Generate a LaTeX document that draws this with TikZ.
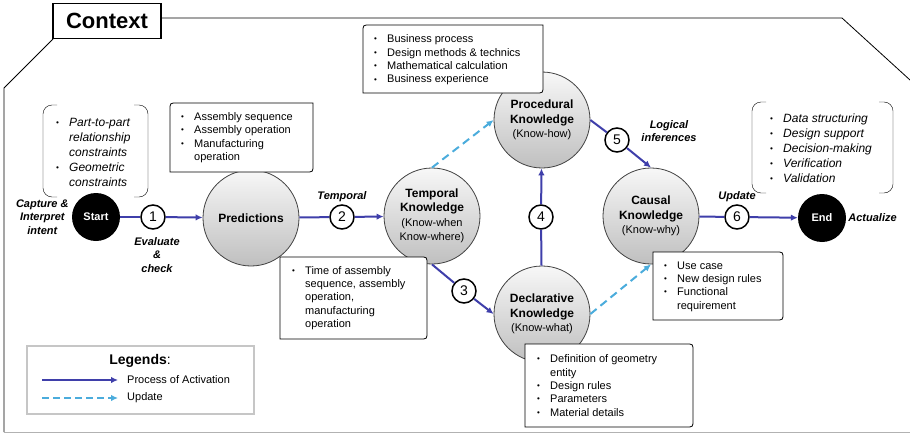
\documentclass[tikz,border=0pt]{standalone}
\usepackage{fontspec}
\setmainfont{Liberation Sans}
\usetikzlibrary{arrows.meta,positioning}

\definecolor{procblue}{RGB}{63,63,170}
\definecolor{updblue}{RGB}{75,172,220}

\newcommand{\bul}{\makebox[13pt][l]{\raisebox{0.9pt}{\fontsize{8}{8}\selectfont\textbullet}}}
\newcommand{\ind}{\hspace*{13pt}}
% box with top left and bottom right corners rounded
\newcommand{\diagbox}[4]{\filldraw[boxline] (#3,#2) -- (#1+7,#2) .. controls (#1,#2) .. (#1,#2+7) -- (#1,#4) -- (#3-7,#4) .. controls (#3,#4) .. (#3,#4-7) -- cycle;}
% box with both right corners rounded
\newcommand{\sidebox}[4]{\filldraw[boxline] (#1,#2) -- (#3-7,#2) .. controls (#3,#2) .. (#3,#2+7) -- (#3,#4-7) .. controls (#3,#4) .. (#3-7,#4) -- (#1,#4) -- cycle;}
% round brackets
\newcommand{\brackets}[4]{\draw[rounded corners=9pt] (#1+14,#2) -- (#1,#2) -- (#1,#4) -- (#1+14,#4);
  \draw[rounded corners=9pt] (#3-14,#2) -- (#3,#2) -- (#3,#4) -- (#3-14,#4);}

\tikzset{
  know/.style={circle, draw=black!75, line width=0.8pt, top color=gray!6, bottom color=gray!50, minimum size=96pt, inner sep=0pt, align=center, font=\fontsize{12}{14.5}\selectfont\bfseries},
  numc/.style={circle, draw, line width=1.5pt, fill=white, minimum size=24pt, inner sep=0pt, font=\fontsize{14}{14}\selectfont},
  term/.style={circle, fill=black, minimum size=48pt, inner sep=0pt, text=white, font=\fontsize{11}{13}\selectfont\bfseries},
  proc/.style={procblue, line width=2pt},
  procarrow/.style={proc, -{Latex[length=7pt,width=6.5pt]}},
  upd/.style={updblue, line width=2pt, dash pattern=on 8pt off 5pt, -{Latex[length=7pt,width=6.5pt]}},
  lbl/.style={font=\fontsize{11}{13.5}\selectfont\bfseries\itshape, align=center, inner sep=1pt},
  boxline/.style={draw=black, fill=white, line width=0.8pt},
  boxtext/.style={font=\fontsize{11}{13.4}\selectfont, align=left, inner sep=0pt, anchor=west},
  bracktext/.style={font=\fontsize{12}{15}\selectfont\itshape, align=left, inner sep=0pt, anchor=west}
}

\begin{document}
\begin{tikzpicture}[x=1pt,y=-1pt]
	\useasboundingbox (0,0) rectangle (910,436);
	
	% context frame
	\draw[line width=0.8pt] (910,80) -- (842,18) -- (161,18);
	\draw[line width=0.8pt] (53,39) -- (4,88) -- (4,432);
	\draw[gray!60, line width=0.8pt] (4,432) -- (910,432);
	\node[draw, fill=white, line width=1.6pt, minimum width=108pt, minimum height=35pt, font=\fontsize{22}{22}\selectfont\bfseries] (context) at (107,21) {Context};
	
	% knowledge
	\node[know] (pred) at (251,218) {Predictions};
	\node[know] (tk) at (432,216) {Temporal\\Knowledge\\{\fontsize{11}{13.5}\selectfont\mdseries (Know-when}\\{\fontsize{11}{13.5}\selectfont\mdseries Know-where)}};
	\node[know] (pk) at (542,120) {Procedural\\Knowledge\\{\fontsize{11}{14}\selectfont\mdseries (Know-how)}};
	\node[know] (dk) at (542,314) {Declarative\\Knowledge\\{\fontsize{11}{14}\selectfont\mdseries (Know-what)}};
	\node[know] (ck) at (651,216) {Causal\\Knowledge\\{\fontsize{11}{14}\selectfont\mdseries (Know-why)}};
	
	\node[term] (start) at (96,217) {Start};
	\node[term] (finish) at (822,218) {End};
	
	\node[numc] (c1) at (153,217) {1};
	\node[numc] (c2) at (342,217) {2};
	\node[numc] (c3) at (464,291) {3};
	\node[numc] (c4) at (541,217) {4};
	\node[numc] (c5) at (617,140) {5};
	\node[numc] (c6) at (737,217) {6};
	
	% text boxes
	\brackets{43}{105}{148}{197}
	\node[bracktext] (inputs) at (56,152) {\bul Part-to-part\\\ind relationship\\\ind constraints\\\bul Geometric\\\ind constraints};
	\brackets{752}{102}{893}{193}
	\node[bracktext] (outputs) at (770,148) {\bul Data structuring\\\bul Design support\\\bul Decision-making\\\bul Verification\\\bul Validation};
	
	\diagbox{170}{103}{313}{172}
	\node[boxtext] (asmbox) at (181,137.5) {\bul Assembly sequence\\\bul Assembly operation\\\bul Manufacturing\\\ind operation};
	\diagbox{363}{25}{543}{93}
	\node[boxtext] (bizbox) at (374,60) {\bul Business process\\\bul Design methods \& technics\\\bul Mathematical calculation\\\bul Business experience};
	\sidebox{280}{257}{427}{339}
	\node[boxtext] (timebox) at (292,298) {\bul Time of assembly\\\ind sequence, assembly\\\ind operation,\\\ind manufacturing\\\ind operation};
	\sidebox{653}{252}{783}{320}
	\node[boxtext] (casebox) at (664,286.5) {\bul Use case\\\bul New design rules\\\bul Functional\\\ind requirement};
	\sidebox{525}{344}{693}{427}
	\node[boxtext] (defbox) at (537,385.5) {\bul Definition of geometry\\\ind entity\\\bul Design rules\\\bul Parameters\\\bul Material details};
	
	% activation
	\draw[proc] (start) -- (c1);
	\draw[procarrow] (c1) -- (pred);
	\draw[proc] (pred) -- (c2);
	\draw[procarrow] (c2) -- (tk);
	\draw[proc] (tk.south) -- (c3);
	\draw[procarrow] (c3) -- (dk.west);
	\draw[proc] (dk) -- (c4);
	\draw[procarrow] (c4) -- (pk);
	\draw[proc] (pk.east) -- (c5);
	\draw[procarrow] (c5) -- (ck.north);
	\draw[proc] (ck) -- (c6);
	\draw[procarrow] (c6) -- (finish);
	
	% update
	\draw[upd] (tk.north) -- (pk.west);
	\draw[upd] (dk.east) -- (ck.south);
	
	\node[lbl, left=2pt of start] (capture) {Capture \&\\Interpret\\intent};
	\node[lbl] (evaluate) at (157,255) {Evaluate\\\&\\check};
	\node[lbl, above=1pt of c2] (temporal) {Temporal};
	\node[lbl] (logical) at (669,131) {Logical\\inferences};
	\node[lbl, above=1pt of c6] (update) {Update};
	\node[lbl, right=1pt of finish] (actualize) {Actualize};
	
	% legend
	\draw[gray!45, line width=1.5pt] (27,346) rectangle (254,414);
	\node[font=\fontsize{14}{14}\selectfont] (legtitle) at (140,361) {\textbf{Legends}:};
	\coordinate (la1) at (42,380);
	\coordinate (la2) at (118,380);
	\coordinate (lb1) at (42,398);
	\coordinate (lb2) at (118,398);
	\draw[procarrow] (la1) -- (la2);
	\draw[upd, line width=1.8pt, dash pattern=on 7pt off 4pt] (lb1) -- (lb2);
	\node[boxtext] (legproc) at (127,380) {Process of Activation};
	\node[boxtext] (legupd) at (127,398) {Update};
\end{tikzpicture}
\end{document}
